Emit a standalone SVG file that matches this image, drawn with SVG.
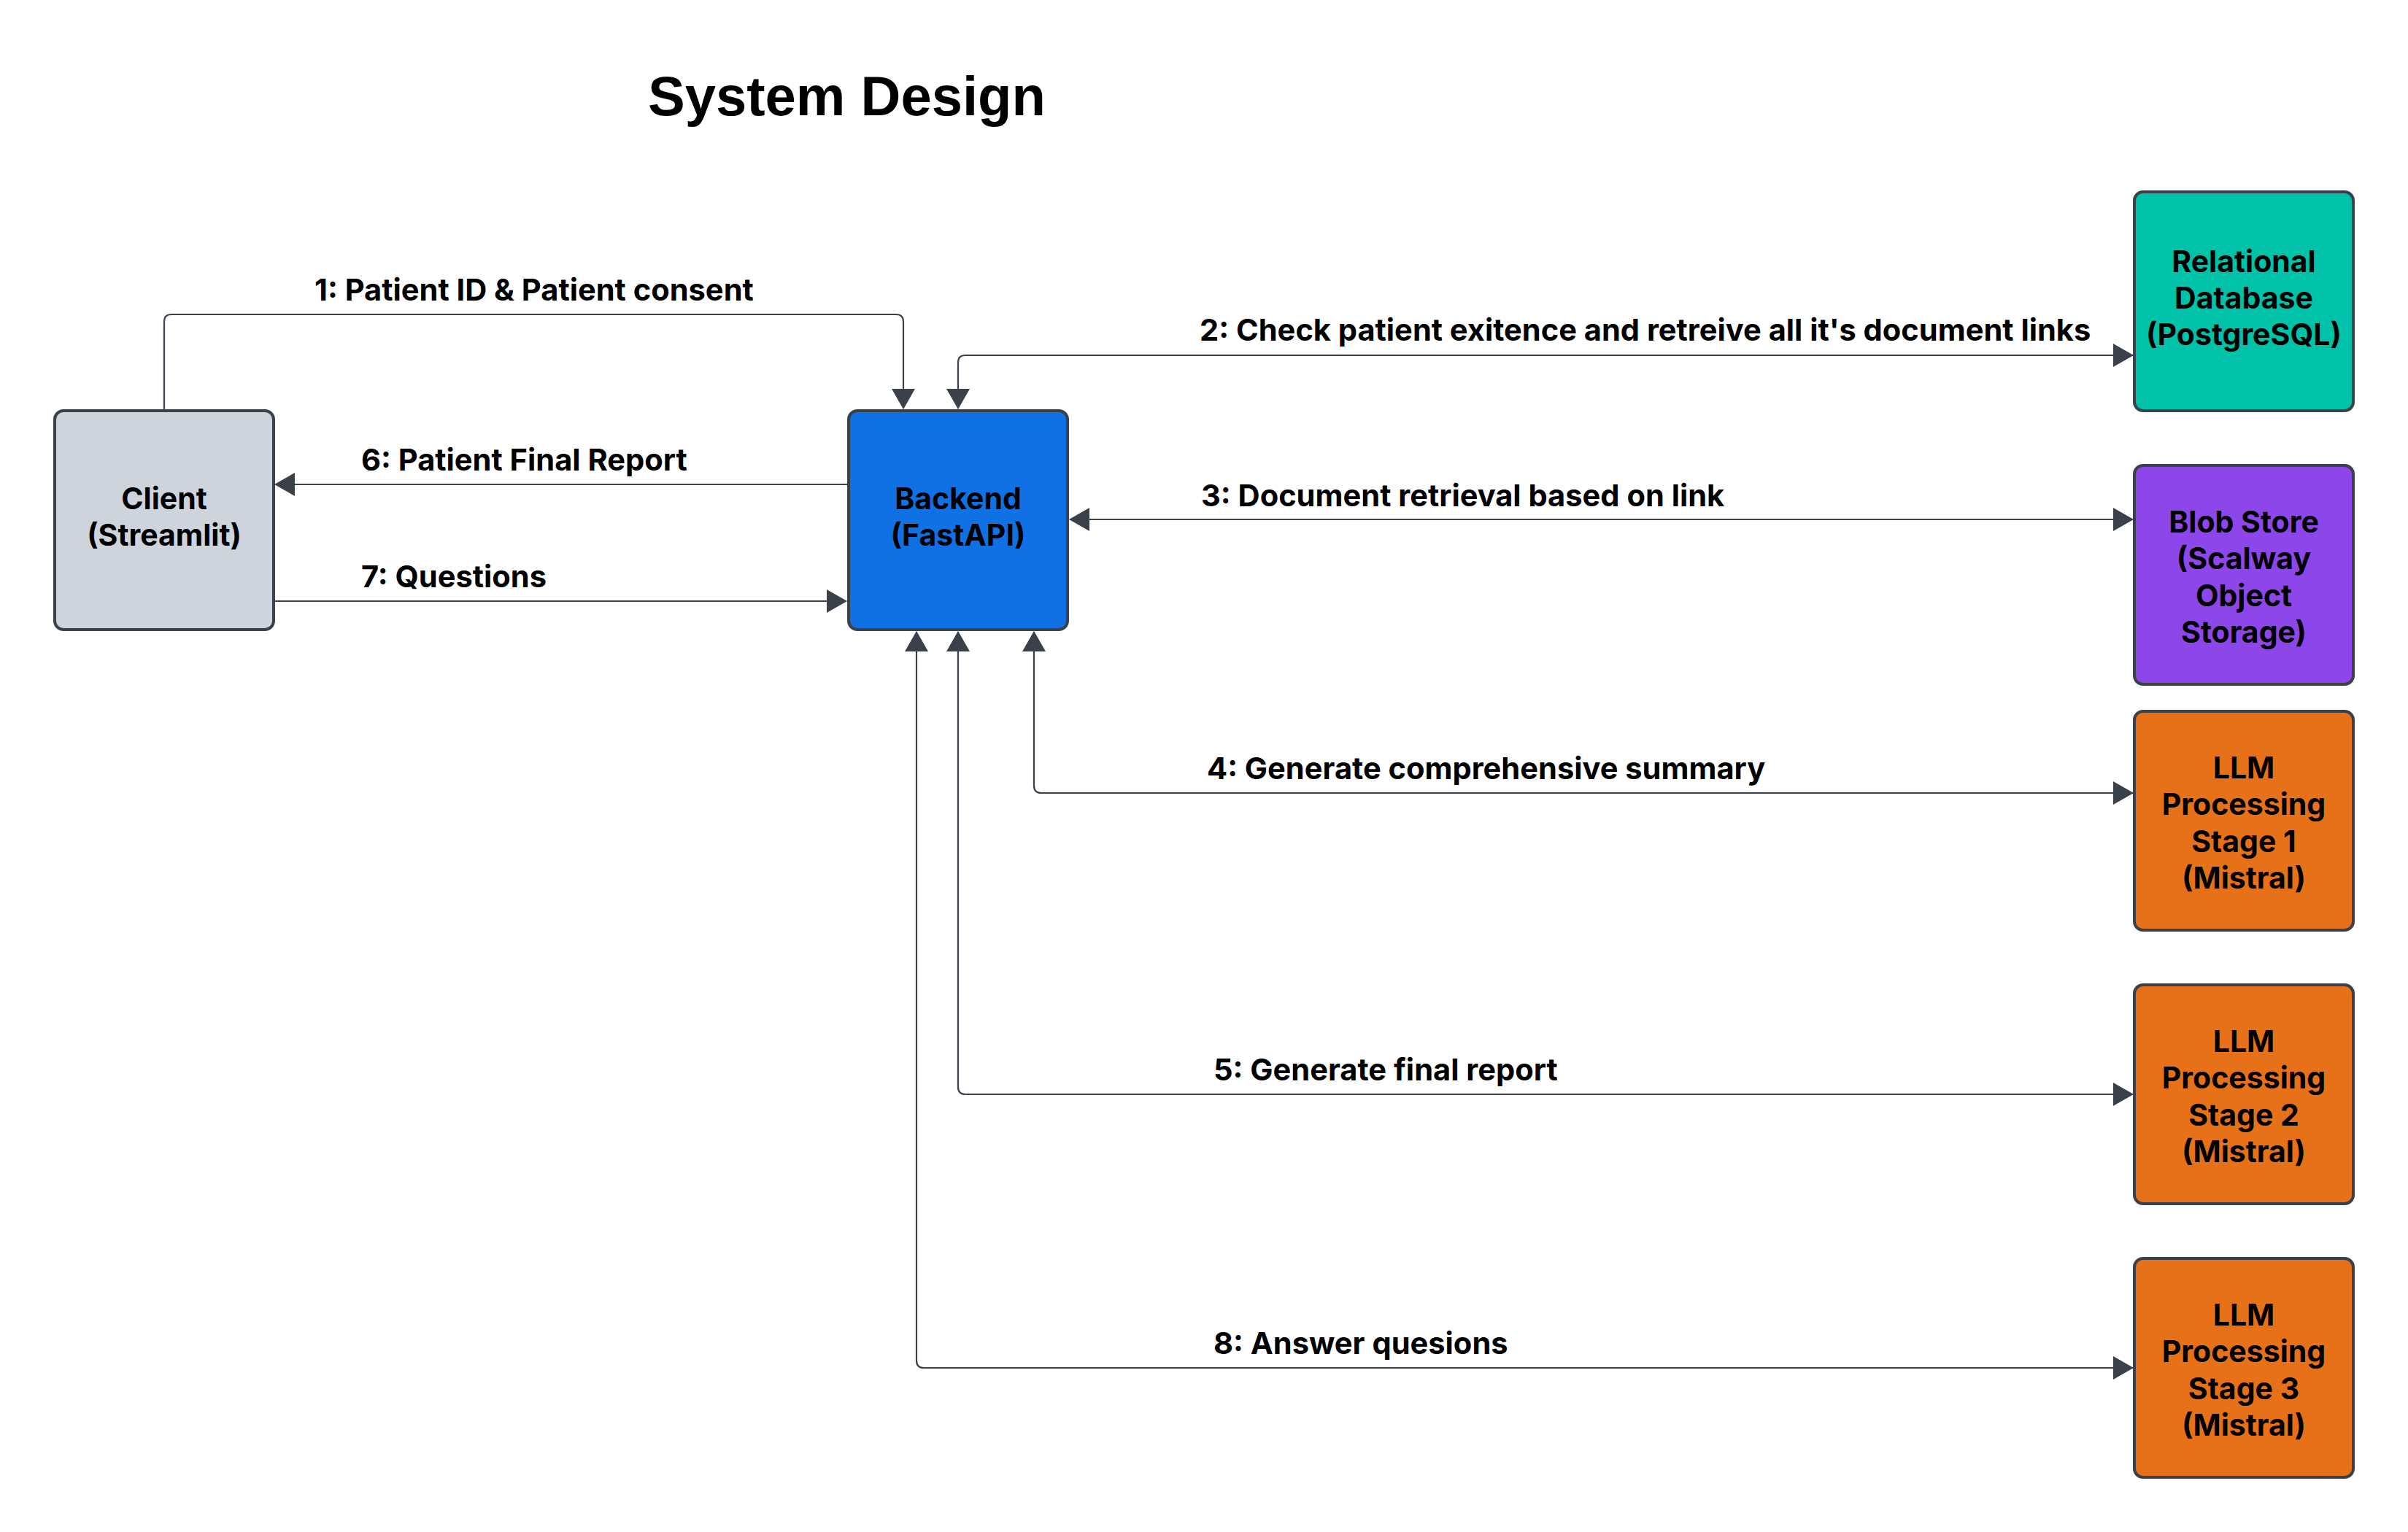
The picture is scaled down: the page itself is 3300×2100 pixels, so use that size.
<svg xmlns="http://www.w3.org/2000/svg" width="3300" height="2100" viewBox="0 0 3300 2100">
<defs>
<marker id="ah" viewBox="0 0 28 32" refX="27" refY="16" markerWidth="28" markerHeight="32" markerUnits="userSpaceOnUse" orient="auto-start-reverse">
<path d="M0,0 L28,16 L0,32 Z" fill="#3a414a"/>
</marker>
<style>
.node rect{stroke:#3a414a;stroke-width:4}
.ntext{font-family:Inter,"Liberation Sans",sans-serif;font-weight:700;font-size:41px;fill:#000;text-anchor:middle}
.lbl{font-family:Inter,"Liberation Sans",sans-serif;font-weight:700;font-size:41.6px;fill:#000}
.conn path{fill:none;stroke:#3a414a;stroke-width:2.2}
.title{font-family:"Liberation Sans",Arial,sans-serif;font-weight:700;font-size:76px;fill:#000}
</style>
</defs>
<rect width="3300" height="2100" fill="#fff"/>
<text class="title" x="888" y="158">System Design</text>

<g id="connectors" class="conn">
<path id="e1" d="M225,563 V441 Q225,431 235,431 H1228 Q1238,431 1238,441 V560" marker-end="url(#ah)"/>
<path id="e2" d="M1313,560 V497 Q1313,487 1323,487 H2923" marker-start="url(#ah)" marker-end="url(#ah)"/>
<path id="e3" d="M1466,712 H2923" marker-start="url(#ah)" marker-end="url(#ah)"/>
<path id="e4" d="M1417,866 V1077 Q1417,1087 1427,1087 H2923" marker-start="url(#ah)" marker-end="url(#ah)"/>
<path id="e5" d="M1313,866 V1490 Q1313,1500 1323,1500 H2923" marker-start="url(#ah)" marker-end="url(#ah)"/>
<path id="e8" d="M1256,866 V1865 Q1256,1875 1266,1875 H2923" marker-start="url(#ah)" marker-end="url(#ah)"/>
<path id="e6" d="M1163,664 H377" marker-end="url(#ah)"/>
<path id="e7" d="M375,824 H1160" marker-end="url(#ah)"/>
</g>

<g id="labels">
<text class="lbl" x="431" y="412">1: Patient ID &amp; Patient consent</text>
<text class="lbl" x="1644" y="467">2: Check patient exitence and retreive all it's document links</text>
<text class="lbl" x="1646" y="694">3: Document retrieval based on link</text>
<text class="lbl" x="1654" y="1068">4: Generate comprehensive summary</text>
<text class="lbl" x="1663" y="1481">5: Generate final report</text>
<text class="lbl" x="1663" y="1856">8: Answer quesions</text>
<text class="lbl" x="495" y="645">6: Patient Final Report</text>
<text class="lbl" x="495" y="805">7: Questions</text>
</g>

<g id="client" class="node">
<rect x="75" y="563" width="300" height="300" rx="12" fill="#ced4db"/>
<text class="ntext" x="225" y="698">Client</text>
<text class="ntext" x="225" y="748">(Streamlit)</text>
</g>
<g id="backend" class="node">
<rect x="1163" y="563" width="300" height="300" rx="12" fill="#1071e5"/>
<text class="ntext" x="1313" y="698">Backend</text>
<text class="ntext" x="1313" y="748">(FastAPI)</text>
</g>
<g id="db" class="node">
<rect x="2925" y="263" width="300" height="300" rx="12" fill="#00c2a8"/>
<text class="ntext" x="3075" y="373">Relational</text>
<text class="ntext" x="3075" y="423">Database</text>
<text class="ntext" x="3075" y="473">(PostgreSQL)</text>
</g>
<g id="blob" class="node">
<rect x="2925" y="638" width="300" height="300" rx="12" fill="#8d46e9"/>
<text class="ntext" x="3075" y="730">Blob Store</text>
<text class="ntext" x="3075" y="780">(Scalway</text>
<text class="ntext" x="3075" y="831">Object</text>
<text class="ntext" x="3075" y="881">Storage)</text>
</g>
<g id="llm1" class="node">
<rect x="2925" y="975" width="300" height="300" rx="12" fill="#e67119"/>
<text class="ntext" x="3075" y="1067">LLM</text>
<text class="ntext" x="3075" y="1117">Processing</text>
<text class="ntext" x="3075" y="1168">Stage 1</text>
<text class="ntext" x="3075" y="1218">(Mistral)</text>
</g>
<g id="llm2" class="node">
<rect x="2925" y="1350" width="300" height="300" rx="12" fill="#e67119"/>
<text class="ntext" x="3075" y="1442">LLM</text>
<text class="ntext" x="3075" y="1492">Processing</text>
<text class="ntext" x="3075" y="1543">Stage 2</text>
<text class="ntext" x="3075" y="1593">(Mistral)</text>
</g>
<g id="llm3" class="node">
<rect x="2925" y="1725" width="300" height="300" rx="12" fill="#e67119"/>
<text class="ntext" x="3075" y="1817">LLM</text>
<text class="ntext" x="3075" y="1867">Processing</text>
<text class="ntext" x="3075" y="1918">Stage 3</text>
<text class="ntext" x="3075" y="1968">(Mistral)</text>
</g>
</svg>
